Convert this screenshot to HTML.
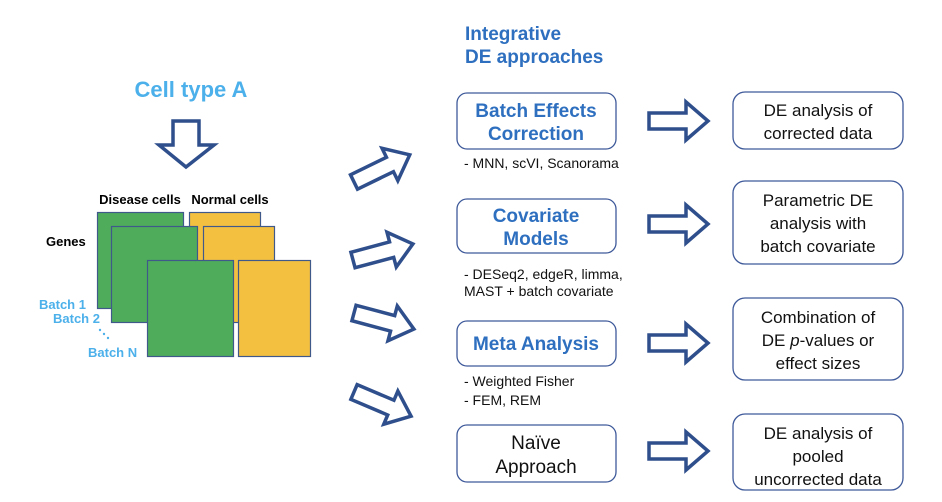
<!DOCTYPE html>
<html><head><meta charset="utf-8"><style>
html,body{margin:0;padding:0;background:#fff;}
svg{display:block;font-family:"Liberation Sans","Noto Sans CJK KR",sans-serif;}
</style></head><body>
<svg width="942" height="502" viewBox="0 0 942 502" xmlns="http://www.w3.org/2000/svg">
<defs>
<polygon id="ar" points="0,-8 40,-8 40,-18 62,0 40,18 40,8 0,8" fill="#fff" stroke="#2f4f8c" stroke-width="3.5" stroke-linejoin="miter"/>
</defs>
<text x="191" y="97" text-anchor="middle" font-size="22" font-weight="bold" fill="#4cb0ea">Cell type A</text>
<polygon points="173,121 199,121 199,145 214,145 186,167 159,145 173,145" fill="#fff" stroke="#2f4f8c" stroke-width="3.5"/>
<text x="140" y="204" text-anchor="middle" font-size="13" font-weight="bold" fill="#000">Disease cells</text>
<text x="230" y="204" text-anchor="middle" font-size="13" font-weight="bold" fill="#000">Normal cells</text>
<text x="46" y="246" font-size="13" font-weight="bold" fill="#000">Genes</text>
<g stroke="#3f5a8a" stroke-width="1.2">
<rect x="97.5" y="212.5" width="86" height="96" fill="#4fac5b"/>
<rect x="189.5" y="212.5" width="71" height="96" fill="#f4c040"/>
<rect x="111.5" y="226.5" width="86" height="96" fill="#4fac5b"/>
<rect x="203.5" y="226.5" width="71" height="96" fill="#f4c040"/>
<rect x="147.5" y="260.5" width="86" height="96" fill="#4fac5b"/>
<rect x="238.5" y="260.5" width="72" height="96" fill="#f4c040"/>
</g>
<g font-size="13" font-weight="bold" fill="#4cb0ea">
<text x="39" y="309">Batch 1</text>
<text x="53" y="323">Batch 2</text>
<text x="88" y="357">Batch N</text>
<circle cx="100" cy="330" r="1.2"/><circle cx="104" cy="334" r="1.2"/><circle cx="108" cy="338" r="1.2"/>
</g>
<text x="465" y="40" font-size="19" font-weight="bold" fill="#2e6fbf">Integrative</text>
<text x="465" y="63" font-size="19" font-weight="bold" fill="#2e6fbf">DE approaches</text>
<use href="#ar" transform="translate(354,182) rotate(-26)"/>
<use href="#ar" transform="translate(353,260) rotate(-15)"/>
<use href="#ar" transform="translate(354,313) rotate(15)"/>
<use href="#ar" transform="translate(354,392) rotate(23)"/>
<g fill="#fff" stroke="#3f5a9a" stroke-width="1.3">
<rect x="457" y="93" width="159" height="56" rx="10"/>
<rect x="457" y="199" width="159" height="54" rx="10"/>
<rect x="457" y="321" width="159" height="45" rx="10"/>
<rect x="457" y="425" width="159" height="57" rx="10"/>
<rect x="733" y="92" width="170" height="57" rx="12"/>
<rect x="733" y="181" width="170" height="83" rx="12"/>
<rect x="733" y="298" width="170" height="82" rx="12"/>
<rect x="733" y="414" width="170" height="76" rx="12"/>
</g>
<g font-size="19" font-weight="bold" fill="#2e6fbf" text-anchor="middle">
<text x="536" y="117">Batch Effects</text>
<text x="536" y="140">Correction</text>
<text x="536" y="222">Covariate</text>
<text x="536" y="245">Models</text>
<text x="536" y="350">Meta Analysis</text>
</g>
<g font-size="19" fill="#111" text-anchor="middle">
<text x="536" y="449">Naïve</text>
<text x="536" y="473">Approach</text>
</g>
<g font-size="14" fill="#111">
<text x="464" y="168">- MNN, scVI, Scanorama</text>
<text x="464" y="279">- DESeq2, edgeR, limma,</text>
<text x="464" y="296">MAST + batch covariate</text>
<text x="464" y="386">- Weighted Fisher</text>
<text x="464" y="405">- FEM, REM</text>
</g>
<g transform="translate(0,0)">
<polygon points="649,113 686,113 686,102 708,121 686,140 686,129 649,129" fill="#fff" stroke="#2f4f8c" stroke-width="3.5"/>
<polygon points="649,216 686,216 686,205 708,224 686,243 686,232 649,232" fill="#fff" stroke="#2f4f8c" stroke-width="3.5"/>
<polygon points="649,335 686,335 686,324 708,343 686,362 686,351 649,351" fill="#fff" stroke="#2f4f8c" stroke-width="3.5"/>
<polygon points="649,443 686,443 686,432 708,451 686,470 686,459 649,459" fill="#fff" stroke="#2f4f8c" stroke-width="3.5"/>
</g>
<g font-size="17" fill="#111" text-anchor="middle">
<text x="818" y="116">DE analysis of</text>
<text x="818" y="139">corrected data</text>
<text x="818" y="206">Parametric DE</text>
<text x="818" y="229">analysis with</text>
<text x="818" y="252">batch covariate</text>
<text x="818" y="323">Combination of</text>
<text x="818" y="346">DE <tspan font-style="italic">p</tspan>-values or</text>
<text x="818" y="369">effect sizes</text>
<text x="818" y="439">DE analysis of</text>
<text x="818" y="462">pooled</text>
<text x="818" y="485">uncorrected data</text>
</g>
</svg>
</body></html>
